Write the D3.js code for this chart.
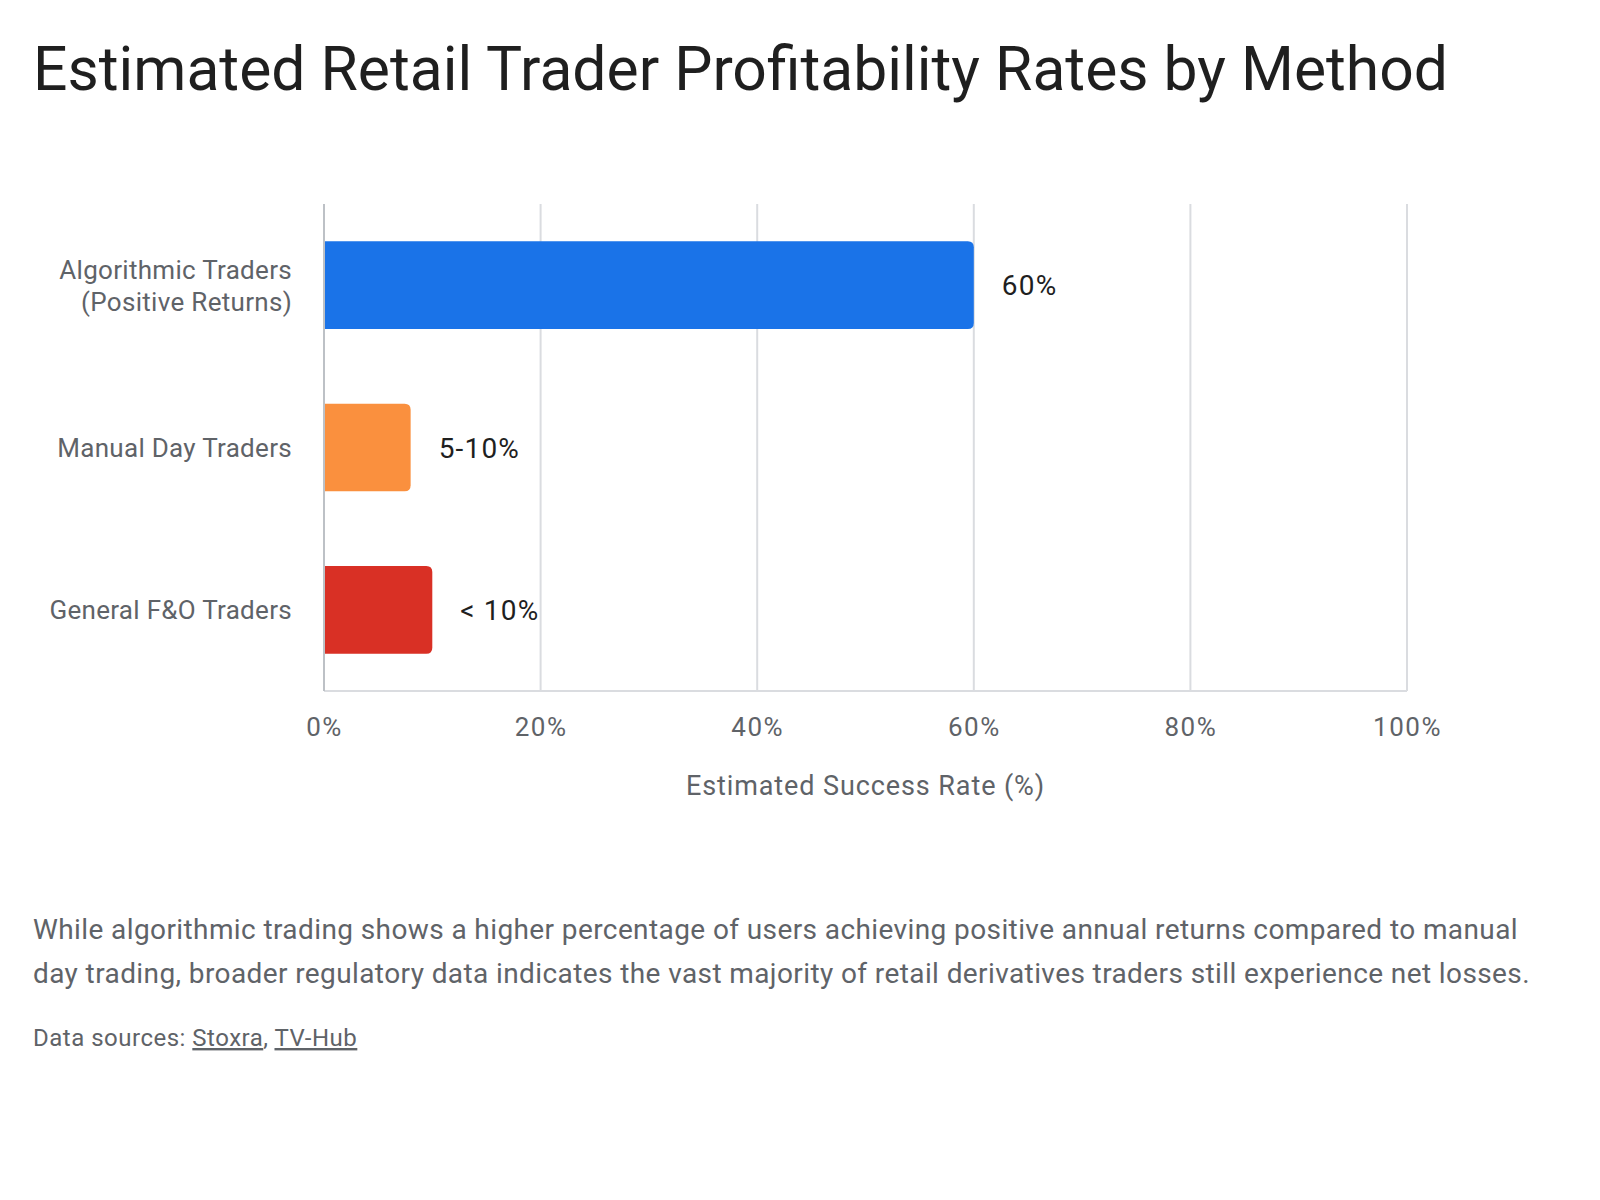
<!DOCTYPE html>
<html>
<head>
<meta charset="utf-8">
<script src="https://cdn.jsdelivr.net/npm/d3@7"></script>
<style>
  body { margin: 0; background: #fff; }
  text { font-family: "Google Sans", Roboto, "Noto Sans", sans-serif; }
</style>
</head>
<body>
<div id="chart"></div>
<script>
const categories = [["Algorithmic Traders", "(Positive Returns)"], ["Manual Day Traders"], ["General F&O Traders"]];
const values = [60, 8, 10];
const valueLabels = ["60%", "5-10%", "< 10%"];
const barColors = ["#1a73e8", "#fa903e", "#d93025"];
const ticks = [0, 20, 40, 60, 80, 100];
const captionLines = [
  "While algorithmic trading shows a higher percentage of users achieving positive annual returns compared to manual",
  "day trading, broader regulatory data indicates the vast majority of retail derivatives traders still experience net losses."
];

const width = 1600, height = 1200;
const plot = { left: 324, right: 1407, top: 204, bottom: 691 };

const svg = d3.select("#chart").append("svg")
  .attr("width", width)
  .attr("height", height);

// titulo
svg.append("text")
  .attr("x", 33).attr("y", 90)
  .attr("font-size", 60.6)
  .attr("fill", "#1f1f1f")
  .text("Estimated Retail Trader Profitability Rates by Method");

const x = d3.scaleLinear().domain([0, 100]).range([plot.left, plot.right]);
const y = d3.scaleBand().domain(d3.range(values.length))
  .range([plot.top, plot.bottom])
  .paddingInner(0.46).paddingOuter(0.23);

// rejilla vertical
svg.append("g").selectAll("line")
  .data(ticks.slice(1))
  .enter().append("line")
  .attr("x1", d => x(d)).attr("x2", d => x(d))
  .attr("y1", plot.top).attr("y2", plot.bottom)
  .attr("stroke", "#dadce0").attr("stroke-width", 2);

// linea base inferior
svg.append("line")
  .attr("x1", plot.left).attr("x2", plot.right)
  .attr("y1", plot.bottom).attr("y2", plot.bottom)
  .attr("stroke", "#dadce0").attr("stroke-width", 2);

// barras con esquinas derechas redondeadas
const r = 6;
svg.append("g").selectAll("path")
  .data(values)
  .enter().append("path")
  .attr("fill", (d, i) => barColors[i])
  .attr("d", (d, i) => {
    const x0 = x(0), x1 = x(d), y0 = y(i), h = y.bandwidth();
    return `M${x0},${y0}H${x1 - r}Q${x1},${y0} ${x1},${y0 + r}V${y0 + h - r}Q${x1},${y0 + h} ${x1 - r},${y0 + h}H${x0}Z`;
  });

// eje en cero
svg.append("line")
  .attr("x1", x(0)).attr("x2", x(0))
  .attr("y1", plot.top).attr("y2", plot.bottom)
  .attr("stroke", "#bdc1c6").attr("stroke-width", 2);

// etiquetas de valor
svg.append("g").selectAll("text")
  .data(values)
  .enter().append("text")
  .attr("x", d => x(d) + 28)
  .attr("y", (d, i) => y(i) + y.bandwidth() / 2)
  .attr("dy", "0.36em")
  .attr("font-size", 28)
  .attr("letter-spacing", 1.2)
  .attr("fill", "#1f1f1f")
  .text((d, i) => valueLabels[i]);

// etiquetas de categoria
const catG = svg.append("g").selectAll("text")
  .data(categories)
  .enter().append("text")
  .attr("text-anchor", "end")
  .attr("font-size", 26)
  .attr("letter-spacing", 0.3)
  .attr("fill", "#5f6368")
  .attr("y", (d, i) => y(i) + y.bandwidth() / 2 - (d.length - 1) * 16);
catG.selectAll("tspan")
  .data(d => d)
  .enter().append("tspan")
  .attr("x", 292)
  .attr("dy", (d, j) => j === 0 ? "0.36em" : 32)
  .text(d => d);

// eje x
const axis = svg.append("g")
  .attr("transform", `translate(0,${plot.bottom})`)
  .call(d3.axisBottom(x).tickValues(ticks).tickFormat(d => d + "%").tickSize(0).tickPadding(27));
axis.select(".domain").remove();
axis.selectAll("text")
  .attr("font-size", 26)
  .attr("letter-spacing", 1.5)
  .attr("fill", "#5f6368")
  .attr("font-family", null);

svg.append("text")
  .attr("x", (plot.left + plot.right) / 2)
  .attr("y", 795)
  .attr("text-anchor", "middle")
  .attr("font-size", 27)
  .attr("letter-spacing", 0.9)
  .attr("fill", "#5f6368")
  .text("Estimated Success Rate (%)");

// pie de texto
svg.append("g").selectAll("text")
  .data(captionLines)
  .enter().append("text")
  .attr("x", 33)
  .attr("y", (d, i) => 939 + i * 44)
  .attr("font-size", 28)
  .attr("letter-spacing", 0.4)
  .attr("fill", "#5f6368")
  .text(d => d);

const src = svg.append("text")
  .attr("x", 33).attr("y", 1046)
  .attr("font-size", 24)
  .attr("letter-spacing", 0.5)
  .attr("fill", "#5f6368");
src.append("tspan").text("Data sources: ");
src.append("tspan").attr("text-decoration", "underline").text("Stoxra");
src.append("tspan").text(", ");
src.append("tspan").attr("text-decoration", "underline").text("TV-Hub");
</script>
</body>
</html>
